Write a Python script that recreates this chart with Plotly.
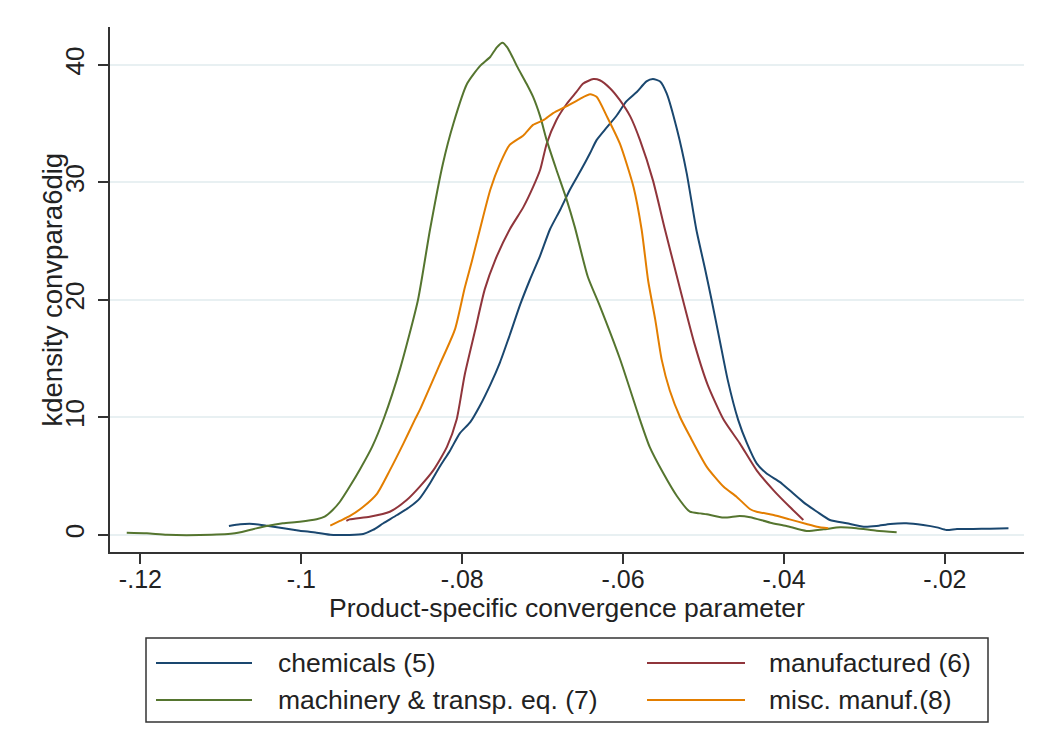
import plotly.graph_objects as go

# ---- data (kernel density estimates) ----
chem_x = [-0.1090, -0.1076, -0.1060, -0.1043, -0.1022, -0.1002, -0.0981, -0.0964, -0.0952, -0.0940,
          -0.0923, -0.0911, -0.0898, -0.0881, -0.0865, -0.0853, -0.0840, -0.0828, -0.0815, -0.0803,
          -0.0790, -0.0778, -0.0765, -0.0753, -0.0741, -0.0728, -0.0716, -0.0703, -0.0691, -0.0678,
          -0.0666, -0.0652, -0.0641, -0.0633, -0.0620, -0.0608, -0.0596, -0.0583, -0.0571, -0.0563,
          -0.0554, -0.0546, -0.0533, -0.0521, -0.0509, -0.0498, -0.0490, -0.0480, -0.0470, -0.0457,
          -0.0446, -0.0434, -0.0422, -0.0405, -0.0393, -0.0376, -0.0359, -0.0343, -0.0322, -0.0301,
          -0.0285, -0.0268, -0.0248, -0.0227, -0.0210, -0.0198, -0.0185, -0.0165, -0.0144, -0.0121]
chem_y = [0.77, 0.91, 0.94, 0.79, 0.57, 0.37, 0.20, 0.02, 0.0, 0.0,
          0.09, 0.43, 1.0, 1.7, 2.4, 3.1, 4.4, 5.8, 7.2, 8.65,
          9.6, 11.0, 12.8, 14.7, 17.0, 19.6, 21.7, 23.8, 26.0, 27.7,
          29.4, 31.1, 32.5, 33.6, 34.7, 35.7, 36.9, 37.7, 38.6, 38.8,
          38.6, 37.6, 34.5, 30.8, 26.0, 22.6, 20.0, 16.6, 13.2, 9.8,
          7.8, 6.1, 5.25, 4.5, 3.8, 2.8, 1.98, 1.28, 1.0, 0.71,
          0.77, 0.94, 1.0, 0.85, 0.65, 0.43, 0.51, 0.51, 0.54, 0.57]

manu_x = [-0.0944, -0.0940, -0.0915, -0.0890, -0.0869, -0.0853, -0.0836, -0.0819, -0.0807, -0.0797,
          -0.0784, -0.0772, -0.0759, -0.0741, -0.0724, -0.0712, -0.0703, -0.0695, -0.0683, -0.0670,
          -0.0658, -0.0650, -0.0637, -0.0629, -0.0616, -0.0604, -0.0591, -0.0579, -0.0563, -0.0548,
          -0.0529, -0.0511, -0.0495, -0.0475, -0.0455, -0.0434, -0.0413, -0.0393, -0.0376]
manu_y = [1.2, 1.33, 1.56, 1.98, 2.98, 4.1, 5.5, 7.5, 9.8, 13.6,
          17.4, 20.9, 23.4, 26.0, 27.9, 29.6, 31.1, 33.3, 35.3, 36.7,
          37.7, 38.4, 38.8, 38.7, 38.0, 37.0, 35.6, 33.6, 30.2, 26.0,
          20.9, 16.2, 12.8, 9.8, 7.8, 5.5, 3.8, 2.4, 1.28]

mach_x = [-0.1217, -0.1192, -0.1167, -0.1126, -0.1085, -0.1064, -0.1043, -0.1023, -0.1002, -0.0981,
          -0.0971, -0.0961, -0.0952, -0.0940, -0.0927, -0.0912, -0.0897, -0.0877, -0.0855, -0.0840,
          -0.0824, -0.0811, -0.0794, -0.0778, -0.0765, -0.0757, -0.0750, -0.0744, -0.0737, -0.0732,
          -0.0720, -0.0712, -0.0703, -0.0695, -0.0683, -0.0670, -0.0660, -0.0644, -0.0629, -0.0604,
          -0.0579, -0.0567, -0.0550, -0.0533, -0.0517, -0.0504, -0.0496, -0.0475, -0.0455, -0.0442,
          -0.0417, -0.0397, -0.0372, -0.0351, -0.0330, -0.0310, -0.0285, -0.0260]
mach_y = [0.2, 0.15, 0.02, 0.0, 0.12, 0.43, 0.77, 1.0, 1.13, 1.34,
          1.56, 2.13, 2.83, 4.1, 5.6, 7.5, 10.0, 14.2, 20.0, 26.0,
          31.6, 35.0, 38.4, 39.9, 40.7, 41.5, 41.9, 41.5, 40.6, 39.9,
          38.4, 37.3, 35.6, 33.6, 31.1, 28.5, 26.2, 22.0, 19.5, 15.0,
          9.8, 7.5, 5.25, 3.3, 1.98, 1.84, 1.76, 1.48, 1.62, 1.51,
          1.05, 0.77, 0.34, 0.48, 0.65, 0.57, 0.37, 0.23]

misc_x = [-0.0964, -0.0952, -0.0940, -0.0923, -0.0906, -0.0890, -0.0873, -0.0859, -0.0853, -0.0828,
          -0.0809, -0.0797, -0.0788, -0.0778, -0.0765, -0.0753, -0.0741, -0.0724, -0.0712, -0.0699,
          -0.0687, -0.0670, -0.0654, -0.0641, -0.0633, -0.0620, -0.0604, -0.0587, -0.0577, -0.0569,
          -0.0560, -0.0552, -0.0542, -0.0529, -0.0517, -0.0496, -0.0475, -0.0459, -0.0442, -0.0434,
          -0.0413, -0.0393, -0.0372, -0.0359, -0.0345]
misc_y = [0.8, 1.2, 1.6, 2.4, 3.5, 5.5, 7.8, 9.8, 10.6, 14.5,
          17.5, 21.0, 23.3, 26.0, 29.4, 31.6, 33.2, 34.0, 34.9, 35.3,
          35.9, 36.5, 37.1, 37.5, 37.3, 35.6, 33.3, 29.6, 26.0, 21.7,
          18.3, 14.9, 12.3, 10.0, 8.4, 5.8, 4.1, 3.26, 2.19, 1.98,
          1.70, 1.33, 0.94, 0.71, 0.57]

series_names = ["chemicals (5)", "manufactured (6)", "machinery & transp. eq. (7)", "misc. manuf.(8)"]
series_colors = ["#1a476f", "#90353b", "#55752f", "#e37e00"]

x_ticks = [-0.12, -0.10, -0.08, -0.06, -0.04, -0.02]
x_ticktext = ["-.12", "-.1", "-.08", "-.06", "-.04", "-.02"]
y_ticks = [0, 10, 20, 30, 40]
y_ticktext = ["0", "10", "20", "30", "40"]

FONT = "Liberation Sans, Arial, sans-serif"
TXT = "#222222"

fig = go.Figure()
for xs, ys, name, col in zip([chem_x, manu_x, mach_x, misc_x], [chem_y, manu_y, mach_y, misc_y],
                             series_names, series_colors):
    fig.add_trace(go.Scatter(x=xs, y=ys, mode="lines", name=name, showlegend=False,
                             line=dict(color=col, width=2, shape="spline", smoothing=0.6)))

# ---- layout geometry (page has an 8px body margin) ----
OFF = 8
W, H = 1041 - OFF, 755 - OFF
L, R, T, B = 102, 17, 19, 203
pw, ph = W - L - R, H - T - B
def px(xs):   # screen pixel -> paper x
    return (xs - OFF - L) / pw
def py(ys):   # screen pixel -> paper y
    return (H - B - (ys - OFF)) / ph

shapes = [dict(type="rect", xref="paper", yref="paper", x0=px(146), x1=px(988), y0=py(722), y1=py(638),
               line=dict(color="#333333", width=1.5), fillcolor="white", layer="below")]
annotations = [dict(xref="paper", yref="paper", x=px(52), y=0.5, text="kdensity convpara6dig",
                    textangle=-90, showarrow=False, xanchor="center", yanchor="middle",
                    font=dict(family=FONT, size=27.5, color=TXT))]
leg_pos = [(156, 252, 276, 663), (647, 745, 767, 663), (156, 252, 276, 700), (647, 745, 767, 700)]
for (l0, l1, tx, ty), name, col in zip(leg_pos, series_names, series_colors):
    shapes.append(dict(type="line", xref="paper", yref="paper", x0=px(l0), x1=px(l1), y0=py(ty), y1=py(ty),
                       line=dict(color=col, width=2)))
    annotations.append(dict(xref="paper", yref="paper", x=px(tx), y=py(ty), text=name, showarrow=False,
                            xanchor="left", yanchor="middle", font=dict(family=FONT, size=26.5, color=TXT)))

fig.update_layout(
    width=W, height=H,
    margin=dict(l=L, r=R, t=T, b=B, autoexpand=False),
    paper_bgcolor="white", plot_bgcolor="white",
    font=dict(family=FONT, size=26, color=TXT),
    shapes=shapes, annotations=annotations,
    xaxis=dict(range=[-0.12378, -0.01017], tickvals=x_ticks, ticktext=x_ticktext,
               showline=True, linecolor="#333333", linewidth=1.5, mirror=False,
               ticks="outside", ticklen=10, tickwidth=1.5, tickcolor="#333333",
               showgrid=False, zeroline=False, tickfont=dict(size=25), ticklabelstandoff=-6,
               automargin=False,
               title=dict(text="Product-specific convergence parameter", font=dict(size=26.5), standoff=4)),
    yaxis=dict(range=[-1.447, 43.23], tickvals=y_ticks, ticktext=y_ticktext, tickangle=-90,
               showline=True, linecolor="#333333", linewidth=1.5,
               ticks="outside", ticklen=10, tickwidth=1.5, tickcolor="#333333", ticklabelstandoff=4,
               showgrid=True, gridcolor="#e8f0f2", gridwidth=1.5, zeroline=False, tickfont=dict(size=26),
               automargin=False),
)

fig.write_html("out.html")
